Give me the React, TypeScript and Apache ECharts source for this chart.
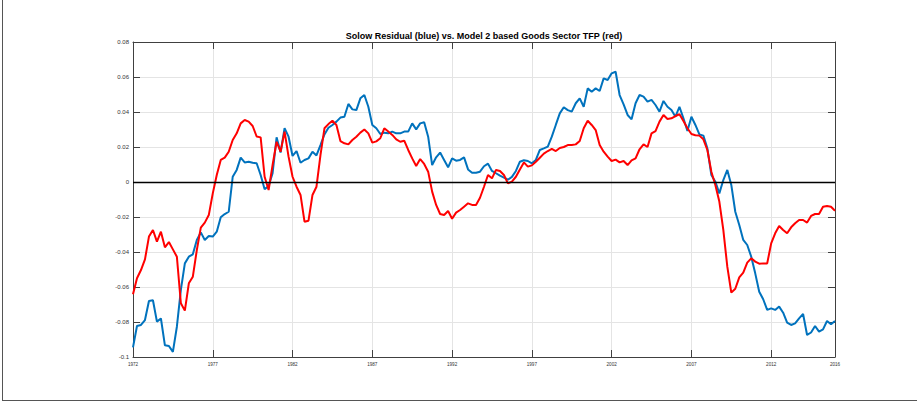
import React, { useEffect, useRef } from "react";
import * as echarts from "echarts";

const startYear = 1972;
const endYear = 2016;
const tickStep = 5;
const yTicks = { min: -0.1, max: 0.08, step: 0.02 };
const titleText = "Solow Residual (blue) vs. Model 2 based Goods Sector TFP (red)";

// quarterly values, 1972Q1 .. 2016Q1
const solowResidual = [
  -0.0945, -0.0823, -0.0817, -0.0789, -0.068, -0.0676, -0.0798, -0.078, -0.0933, -0.0937,
  -0.0971, -0.0827, -0.0617, -0.0465, -0.0427, -0.0413, -0.0331, -0.0288, -0.0331, -0.0309,
  -0.0312, -0.0284, -0.0202, -0.0183, -0.017, 0.003, 0.0069, 0.0139, 0.0112, 0.0116,
  0.011, 0.0107, 0.004, -0.0042, -0.0023, 0.005, 0.0255, 0.0168, 0.0307, 0.0259,
  0.0149, 0.0177, 0.011, 0.0126, 0.0135, 0.0173, 0.0152, 0.0211, 0.0272, 0.031,
  0.0326, 0.0345, 0.0368, 0.0373, 0.0446, 0.0415, 0.0411, 0.0478, 0.0497, 0.043,
  0.0326, 0.0307, 0.0274, 0.0282, 0.0278, 0.0288, 0.0278, 0.0278, 0.0288, 0.0288,
  0.0335, 0.0301, 0.0335, 0.0341, 0.0259, 0.0097, 0.0141, 0.0168, 0.0126, 0.0084,
  0.0135, 0.0122, 0.0126, 0.0141, 0.0072, 0.0053, 0.0053, 0.0059, 0.009, 0.0105,
  0.0063, 0.005, 0.0036, 0.0025, 0.0013, 0.0029, 0.0063, 0.0116, 0.0124, 0.012,
  0.0107, 0.0126, 0.0183, 0.0192, 0.0202, 0.0259, 0.0326, 0.0392, 0.0427, 0.0411,
  0.0402, 0.045, 0.0478, 0.043, 0.0535, 0.0516, 0.0535, 0.052, 0.0592, 0.0583,
  0.0621, 0.063, 0.0497, 0.0444, 0.0383, 0.0358, 0.045, 0.0497, 0.0488, 0.0459,
  0.0469, 0.044, 0.0402, 0.0463, 0.043, 0.0411, 0.0373, 0.043, 0.0364, 0.0291,
  0.0373, 0.0326, 0.0272, 0.0265, 0.0192, 0.004, 0.0002, -0.0065, 0.0011, 0.0069,
  -0.0017, -0.017, -0.0246, -0.0331, -0.036, -0.0427, -0.0522, -0.0627, -0.067, -0.0731,
  -0.0722, -0.0731, -0.0712, -0.0747, -0.0804, -0.0817, -0.0808, -0.0779, -0.0754, -0.0874,
  -0.086, -0.0823, -0.0855, -0.0842, -0.0794, -0.0813, -0.0794,
];

const goodsSectorTFP = [
  -0.0642, -0.055, -0.0503, -0.0442, -0.0312, -0.0274, -0.0341, -0.0284, -0.0373, -0.0343,
  -0.0385, -0.0427, -0.0693, -0.0735, -0.0579, -0.0541, -0.0389, -0.0261, -0.0232, -0.0189,
  -0.0065, 0.004, 0.0126, 0.0139, 0.0173, 0.024, 0.0278, 0.0335, 0.0354, 0.0345,
  0.032, 0.026, 0.0255, 0.003, -0.0046, 0.0097, 0.023, 0.0173, 0.0288, 0.0145,
  0.003, -0.0027, -0.0074, -0.0227, -0.0221, -0.0074, -0.0027, 0.0154, 0.0307, 0.0331,
  0.035, 0.0326, 0.0234, 0.0221, 0.0215, 0.024, 0.0259, 0.0282, 0.030, 0.0278,
  0.0225, 0.0232, 0.025, 0.0307, 0.0288, 0.0269, 0.0244, 0.023, 0.0236, 0.0183,
  0.0135, 0.0091, 0.0131, 0.0103, 0.0059, -0.0055, -0.0131, -0.0183, -0.0189, -0.0166,
  -0.021, -0.0175, -0.016, -0.0141, -0.0122, -0.0131, -0.0131, -0.009, -0.0027, 0.004,
  0.0021, 0.0069, 0.0063, 0.004, -0.0008, 0.0002, 0.003, 0.0072, 0.0112, 0.0088,
  0.0095, 0.0116, 0.0139, 0.0162, 0.0177, 0.0189, 0.0177, 0.0194, 0.02, 0.0211,
  0.0211, 0.0215, 0.0234, 0.0307, 0.035, 0.0326, 0.0297, 0.0211, 0.0173, 0.0145,
  0.012, 0.0128, 0.0112, 0.012, 0.0097, 0.0124, 0.0135, 0.0187, 0.0215, 0.02,
  0.0278, 0.0291, 0.0345, 0.0383, 0.036, 0.0364, 0.0377, 0.0387, 0.0349, 0.0307,
  0.0274, 0.0267, 0.0265, 0.0244, 0.0183, 0.0059, -0.0017, -0.0112, -0.0274, -0.0484,
  -0.0632, -0.061, -0.0545, -0.0518, -0.0461, -0.0436, -0.0455, -0.0467, -0.0465, -0.0465,
  -0.0351, -0.0293, -0.0251, -0.0274, -0.0293, -0.0259, -0.0236, -0.0217, -0.0217, -0.0232,
  -0.0194, -0.0183, -0.0183, -0.0141, -0.0137, -0.0141, -0.0164,
];

const FONT = "'Liberation Sans', Arial, Helvetica, sans-serif";
const AXIS_COLOR = "#404040";
const GRID_COLOR = "#e4e4e4";

// x positions are years since startYear (quarterly)
const toPoints = (vals: number[]) => vals.map((v, i) => [i / 4, v]);

export default function App() {
  const ref = useRef<HTMLDivElement>(null);

  useEffect(() => {
    if (!ref.current) return;
    const chart = echarts.init(ref.current, null, { renderer: "svg" });
    const span = endYear - startYear;
    const axisLine = { show: true, onZero: false, lineStyle: { color: AXIS_COLOR, width: 1 } };
    const axisTick = { show: true, inside: true, length: 7, lineStyle: { color: AXIS_COLOR, width: 1 } };
    const xCommon = { type: "value", min: 0, max: span, interval: tickStep, axisLine, axisTick };
    const yCommon = { type: "value", min: yTicks.min, max: yTicks.max, interval: yTicks.step, axisLine, axisTick };

    chart.setOption({
      animation: false,
      backgroundColor: "#ffffff",
      title: {
        text: titleText,
        left: 484,
        top: 31,
        padding: 0,
        textAlign: "center",
        textStyle: { fontFamily: FONT, fontSize: 9, fontWeight: "bold", color: "#000" },
      },
      grid: { left: 133, right: 84, top: 42, bottom: 47, containLabel: false },
      xAxis: [
        {
          ...xCommon,
          position: "bottom",
          axisLabel: {
            show: true,
            margin: 5,
            fontSize: 4.6,
            fontFamily: FONT,
            color: "#333",
            formatter: (v: number) => String(Math.round(v + startYear)),
            showMaxLabel: true,
            showMinLabel: true,
          },
          splitLine: { show: true, lineStyle: { color: GRID_COLOR, width: 1 } },
        },
        {
          ...xCommon,
          position: "top",
          axisLabel: { show: false },
          splitLine: { show: false },
        },
      ],
      yAxis: [
        {
          ...yCommon,
          position: "left",
          axisLabel: {
            show: true,
            margin: 4,
            fontSize: 6,
            fontFamily: FONT,
            color: "#333",
          },
          splitLine: { show: true, lineStyle: { color: GRID_COLOR, width: 1 } },
        },
        {
          ...yCommon,
          position: "right",
          axisLabel: { show: false },
          splitLine: { show: false },
        },
      ],
      series: [
        {
          name: "Solow Residual",
          type: "line",
          data: toPoints(solowResidual),
          showSymbol: false,
          symbol: "none",
          lineStyle: { color: "#0072BD", width: 2 },
          z: 3,
          markLine: {
            silent: true,
            symbol: ["none", "none"],
            label: { show: false },
            lineStyle: { color: "#000", width: 1.3, type: "solid" },
            data: [{ yAxis: 0 }],
          },
        },
        {
          name: "Goods Sector TFP",
          type: "line",
          data: toPoints(goodsSectorTFP),
          showSymbol: false,
          symbol: "none",
          lineStyle: { color: "#FF0000", width: 2 },
          z: 4,
        },
      ],
      graphic: [
        { type: "line", shape: { x1: 2.5, y1: 0, x2: 2.5, y2: 401 }, style: { stroke: "#555", lineWidth: 1 }, silent: true },
        { type: "line", shape: { x1: 2.5, y1: 400.5, x2: 917, y2: 400.5 }, style: { stroke: "#555", lineWidth: 1 }, silent: true },
      ],
    });
    return () => chart.dispose();
  }, []);

  return (
    <div
      ref={ref}
      style={{ position: "absolute", left: 0, top: 0, width: 919, height: 404, background: "#fff" }}
    />
  );
}
